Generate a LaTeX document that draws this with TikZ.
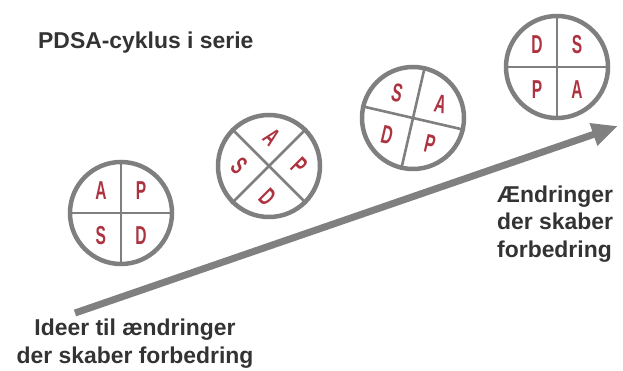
\documentclass[tikz,border=0pt]{standalone}
\usepackage{graphicx}
\usepackage{fontspec}
\setmainfont{Liberation Sans}
\usetikzlibrary{arrows.meta}
\definecolor{wheelgray}{HTML}{7F7F7F}
\definecolor{letterred}{HTML}{AC3340}
\definecolor{textgray}{HTML}{333333}
\definecolor{arrowgray}{HTML}{808080}
\newcommand{\pdsa}[1]{\scalebox{0.6}[1]{#1}}

\begin{document}
\begin{tikzpicture}[x=1bp,y=1bp,
  wheel/.style={draw=wheelgray,line width=4.5bp,circle,minimum size=102bp,inner sep=0},
  spoke/.style={draw=wheelgray,line width=2.6bp},
  letter/.style={text=letterred,font=\fontsize{26}{26}\selectfont\bfseries,inner sep=0},
  caption/.style={text=textgray,font=\fontsize{23}{27.5}\selectfont\bfseries,inner sep=0}]
\useasboundingbox (0,0) rectangle (623,370);
\node[caption,anchor=base west] (title) at (38,322) {PDSA-cyklus i serie};
\node[wheel] (w1) at (121,157) {};
\node[wheel] (w2) at (269,204) {};
\node[wheel] (w3) at (413,252) {};
\node[wheel] (w4) at (557,303) {};
\draw[spoke] (w1.90) -- (w1.270);
\draw[spoke] (w1.180) -- (w1.0);
\draw[spoke] (w2.135) -- (w2.-45);
\draw[spoke] (w2.45) -- (w2.-135);
\draw[spoke] (w3.77) -- (w3.257);
\draw[spoke] (w3.167) -- (w3.-13);
\draw[spoke] (w4.90) -- (w4.270);
\draw[spoke] (w4.180) -- (w4.0);
\node[letter] (a1) at ([shift={(132:30)}]w1) {\pdsa{A}};
\node[letter] (p1) at ([shift={(48:30)}]w1) {\pdsa{P}};
\node[letter] (d1) at ([shift={(-48:30)}]w1) {\pdsa{D}};
\node[letter] (s1) at ([shift={(-132:30)}]w1) {\pdsa{S}};
\node[letter,rotate=-45] (a2) at ([shift={(85:29)}]w2) {\pdsa{A}};
\node[letter,rotate=-45] (p2) at ([shift={(0:30)}]w2) {\pdsa{P}};
\node[letter,rotate=-45] (d2) at ([shift={(-93:31)}]w2) {\pdsa{D}};
\node[letter,rotate=-45] (s2) at ([shift={(180:30)}]w2) {\pdsa{S}};
\node[letter,rotate=-13] (a3) at ([shift={(27:31)}]w3) {\pdsa{A}};
\node[letter,rotate=-13] (p3) at ([shift={(-57:31)}]w3) {\pdsa{P}};
\node[letter,rotate=-13] (d3) at ([shift={(-147:31)}]w3) {\pdsa{D}};
\node[letter,rotate=-13] (s3) at ([shift={(122:30)}]w3) {\pdsa{S}};
\node[letter] (a4) at ([shift={(-48:30)}]w4) {\pdsa{A}};
\node[letter] (p4) at ([shift={(-132:30)}]w4) {\pdsa{P}};
\node[letter] (d4) at ([shift={(132:30)}]w4) {\pdsa{D}};
\node[letter] (s4) at ([shift={(48:30)}]w4) {\pdsa{S}};
\coordinate (start) at (75,57);
\coordinate (goal) at (618,244);
\draw[arrowgray,line width=7bp,-{Triangle[length=26bp,width=22bp]}] (start) -- (goal);
\node[caption,align=center,anchor=base] (idea) at (135,7) {Ideer til ændringer\\der skaber forbedring};
\node[caption,align=left,anchor=base west] (result) at (497,113) {Ændringer\\der skaber\\forbedring};
\end{tikzpicture}
\end{document}
